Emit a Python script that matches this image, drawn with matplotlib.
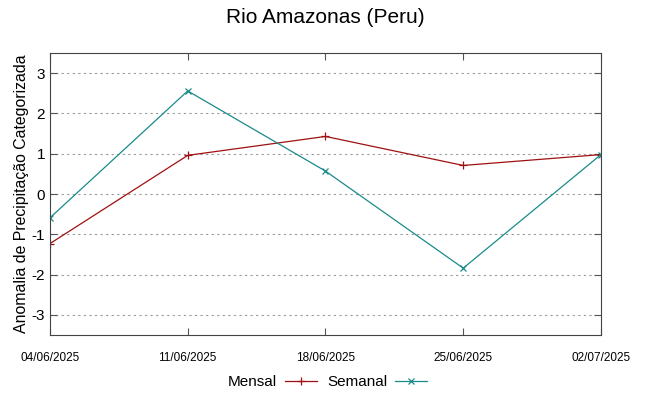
import numpy as np
import matplotlib
matplotlib.use('Agg')
import matplotlib.pyplot as plt

plt.rcParams['font.family'] = ['Liberation Sans', 'DejaVu Sans']
plt.rcParams['axes.unicode_minus'] = False

dates = ['04/06/2025', '11/06/2025', '18/06/2025', '25/06/2025', '02/07/2025']
mensal = [-1.23, 0.96, 1.43, 0.71, 0.98]
semanal = [-0.59, 2.56, 0.57, -1.84, 0.98]

fig = plt.figure(figsize=(6.49, 3.96), dpi=100)
ax = fig.add_axes([0.077, 0.154, 0.849, 0.712])

x = np.arange(len(dates))
ax.plot(x, mensal, color='#a01010', marker='+', markersize=6, markeredgewidth=0.9,
        linewidth=0.9, label='Mensal')
ax.plot(x, semanal, color='#1a8a8a', marker='x', markersize=5, markeredgewidth=0.9,
        linewidth=0.9, label='Semanal')

ax.set_xlim(0, len(dates) - 1)
ax.set_ylim(-3.5, 3.5)
ax.set_xticks(x)
ax.set_xticklabels(dates, fontsize=8.5)
ax.set_yticks([-3, -2, -1, 0, 1, 2, 3])
ax.tick_params(axis='y', labelsize=11)
ax.tick_params(direction='in', top=True, right=True, length=5, color='#555555')
ax.tick_params(axis='x', pad=12)
ax.yaxis.grid(True, linestyle=(0, (2, 3)), color='#999999', linewidth=0.8)
for s in ax.spines.values():
    s.set_color('#444444')

ax.set_ylabel('Anomalia de Precipitação Categorizada', fontsize=11.4, labelpad=2)
ax.set_title('Rio Amazonas (Peru)', fontsize=15, pad=22)

fig.legend(loc='center', bbox_to_anchor=(0.505, 0.035), ncol=2, frameon=False,
           markerfirst=False, fontsize=11, handlelength=2.1, columnspacing=0.7,
           handletextpad=0.5)

fig.savefig('out.png', dpi=100)
